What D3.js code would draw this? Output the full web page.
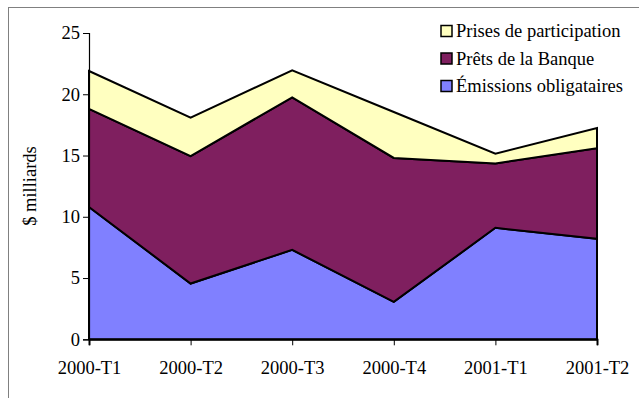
<!DOCTYPE html>
<html><head><meta charset="utf-8">
<script src="https://cdn.jsdelivr.net/npm/d3@7"></script>
<style>
html,body{margin:0;padding:0;background:#fff;}
svg{display:block;}
svg text{font-family:"Times New Roman","Liberation Serif","DejaVu Serif","Noto Serif",Times,serif !important;}
</style></head>
<body>
<svg id="chart" width="639" height="398"></svg>
<script>
const categories = ["2000-T1","2000-T2","2000-T3","2000-T4","2001-T1","2001-T2"];
const emissions = [10.8, 4.55, 7.3, 3.05, 9.1, 8.2];
const prets = [8.0, 10.4, 12.45, 11.75, 5.25, 7.4];
const prises = [3.1, 3.15, 2.2, 3.75, 0.8, 1.65];
const seriesNames = ["Émissions obligataires","Prêts de la Banque","Prises de participation"];
const yTicks = [0,5,10,15,20,25];
const colors = ["#8080FF","#7F1F5F","#FFFFC0"];

const svg = d3.select("#chart");
svg.append("rect").attr("x",8.5).attr("y",7.5).attr("width",640).attr("height",400)
  .attr("fill","none").attr("stroke","#808080").attr("stroke-width",1);

const x = d3.scalePoint().domain(categories).range([89,597]);
const y = d3.scaleLinear().domain([0,25]).range([339.3,33]);

const rows = categories.map((c,i)=>({cat:c, e:emissions[i], p:prets[i], s:prises[i]}));
const layers = d3.stack().keys(["e","p","s"])(rows);

const area = d3.area().x(d=>x(d.data.cat)).y0(d=>y(d[0])).y1(d=>y(d[1]));
svg.append("g").selectAll("path").data(layers).join("path")
  .attr("d",area).attr("fill",(d,i)=>colors[i])
  .attr("stroke","#000").attr("stroke-width",2).attr("stroke-linejoin","miter");

const fontSize = 18.5;
const yAxis = d3.axisLeft(y).tickValues(yTicks).tickSize(6).tickPadding(3);
const gy = svg.append("g").attr("transform","translate(89,0)").call(yAxis);
gy.select(".domain").attr("stroke","#000").attr("stroke-width",1.2);
gy.selectAll("text").attr("font-size",fontSize).attr("fill","#000");

const xAxis = d3.axisBottom(x).tickSize(6).tickPadding(16);
const gx = svg.append("g").attr("transform","translate(0,339.3)").call(xAxis);
gx.select(".domain").attr("stroke","#000").attr("stroke-width",2);
gx.selectAll("text").attr("font-size",fontSize).attr("fill","#000");

svg.append("text").attr("transform","translate(30,186) rotate(-90)")
  .attr("text-anchor","middle").attr("dy","0.35em").attr("font-size",fontSize).text("$ milliards");

const legendOrder = [2,1,0];
const lg = svg.append("g");
legendOrder.forEach((si,k)=>{
  const cy = 31 + k*27.5;
  lg.append("rect").attr("x",441).attr("y",cy-5.5).attr("width",11).attr("height",11)
    .attr("fill",colors[si]).attr("stroke","#000").attr("stroke-width",1.5);
  lg.append("text").attr("x",456).attr("y",cy).attr("dy","0.35em")
    .attr("font-size",fontSize).text(seriesNames[si]);
});
</script>
</body></html>
